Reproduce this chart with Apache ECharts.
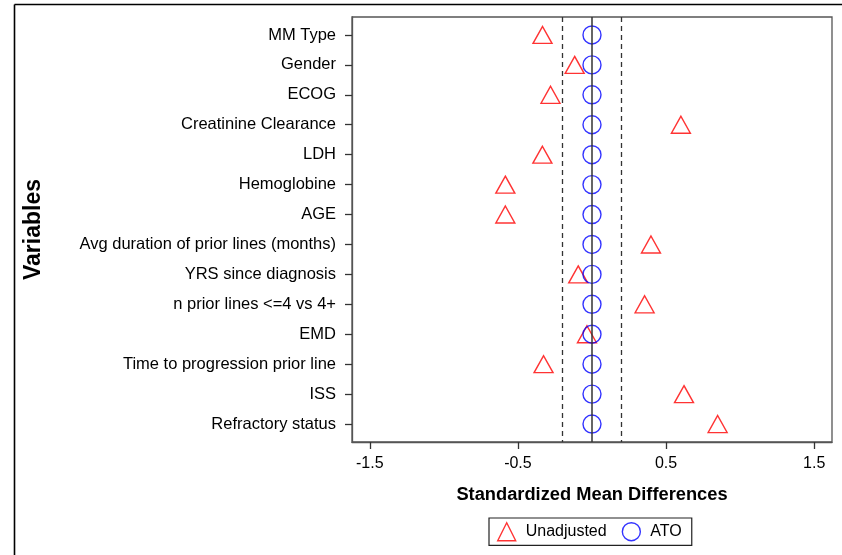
<!DOCTYPE html>
<html>
<head>
<meta charset="utf-8">
<script src="https://cdn.jsdelivr.net/npm/echarts@6/dist/echarts.min.js"></script>
<style>html,body{margin:0;padding:0;background:#fff}#c{width:842px;height:555px}</style>
</head>
<body>
<div id="c"></div>
<script>
const variables = ["MM Type","Gender","ECOG","Creatinine Clearance","LDH","Hemoglobine","AGE","Avg duration of prior lines (months)","YRS since diagnosis","n prior lines <=4 vs 4+","EMD","Time to progression prior line","ISS","Refractory status"];
const unadjusted = [-0.334,-0.117,-0.28,0.60,-0.335,-0.585,-0.585,0.398,-0.093,0.355,-0.034,-0.327,0.621,0.848];
const ato = [0,0,0,0,0,0,0,0,0,0,0,0,0,0];
const xTicks = [-1.5,-0.5,0.5,1.5];
const refLines = [-0.2,0.2];

const rowIdx = variables.map((_, i) => i);
const font = "Liberation Sans, Arial, sans-serif";
const chart = echarts.init(document.getElementById('c'));
chart.setOption({
  animation: false,
  backgroundColor: '#fff',
  grid: {left: 352, right: 10, top: 17, bottom: 113, show: true, borderColor: '#555', borderWidth: 1.3, backgroundColor: 'transparent'},
  xAxis: {
    type: 'value', min: -1.62, max: 1.62,
    name: 'Standardized Mean Differences', nameLocation: 'middle', nameGap: 44,
    nameTextStyle: {fontFamily: font, fontWeight: 'bold', fontSize: 18.3, color: '#000'},
    axisLine: {show: true, onZero: false, lineStyle: {color: '#555', width: 1.3}},
    axisTick: {show: true, length: 7, customValues: xTicks, lineStyle: {color: '#333', width: 1.3}},
    axisLabel: {customValues: xTicks, margin: 14, fontFamily: font, fontSize: 16, color: '#000', formatter: v => String(v)},
    splitLine: {show: false}
  },
  yAxis: {
    type: 'value', inverse: true, min: -0.6, max: 13.6,
    name: 'Variables', nameLocation: 'middle', nameGap: 307, nameRotate: 90,
    nameTextStyle: {fontFamily: font, fontWeight: 'bold', fontSize: 23, color: '#000'},
    axisLine: {show: true, onZero: false, lineStyle: {color: '#555', width: 1.3}},
    axisTick: {show: true, length: 7, customValues: rowIdx, lineStyle: {color: '#333', width: 1.3}},
    axisLabel: {customValues: rowIdx, margin: 16, fontFamily: font, fontSize: 16.5, color: '#000', padding: [3, 0, 0, 0], formatter: v => variables[Math.round(v)]},
    splitLine: {show: false}
  },
  legend: {
    left: 489, top: 518,
    padding: [4, 10, 4, 8], itemGap: 15, itemWidth: 18, itemHeight: 18,
    borderColor: '#222', borderWidth: 1.2,
    itemStyle: {borderWidth: 1.4},
    textStyle: {fontFamily: font, fontSize: 16, color: '#000', padding: [0, 0, 0, 5]},
    data: ['Unadjusted', 'ATO']
  },
  series: [
    {
      name: 'Unadjusted', type: 'scatter', symbol: 'triangle', symbolSize: [19, 17],
      itemStyle: {color: 'rgba(0,0,0,0)', borderColor: '#ff0000', borderWidth: 1.4},
      data: unadjusted.map((v, i) => [v, i]), z: 3,
      markLine: {
        silent: true, symbol: 'none', label: {show: false},
        data: [
          {xAxis: 0, lineStyle: {type: 'solid', color: '#333', width: 1.5}},
          ...refLines.map(v => ({xAxis: v, lineStyle: {type: [5, 4], color: '#333', width: 1.3}}))
        ]
      }
    },
    {
      name: 'ATO', type: 'scatter', symbol: 'circle', symbolSize: 18,
      itemStyle: {color: 'rgba(0,0,0,0)', borderColor: '#0000ff', borderWidth: 1.4},
      data: ato.map((v, i) => [v, i]), z: 4
    }
  ],
  graphic: [
    {type: 'line', shape: {x1: 14.5, y1: 4.5, x2: 842, y2: 4.5}, style: {stroke: '#000', lineWidth: 1.6}},
    {type: 'line', shape: {x1: 14.5, y1: 4.5, x2: 14.5, y2: 555}, style: {stroke: '#000', lineWidth: 1.6}}
  ]
});
</script>
</body>
</html>
